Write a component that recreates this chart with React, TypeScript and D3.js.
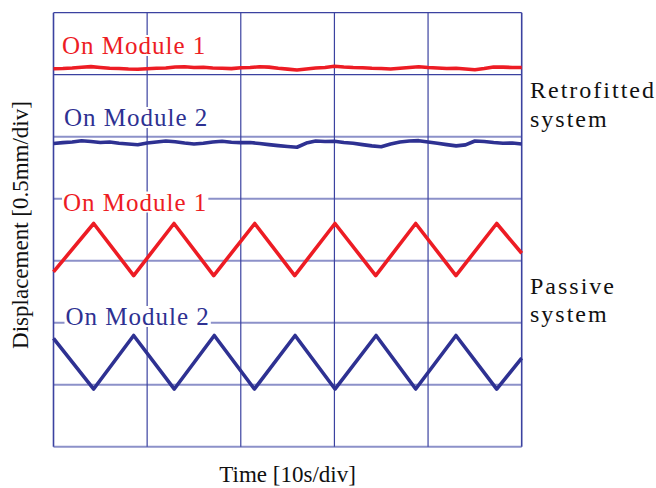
import React, { useEffect, useRef } from 'react';
import * as d3 from 'd3';

// time axis: 10 s/div, 5 divisions; displacement: 0.5 mm/div, 7 divisions
const timeTicks = [0, 10, 20, 30, 40, 50];
const dispTicks = [0, 0.5, 1, 1.5, 2, 2.5, 3, 3.5];

// retrofitted system, sampled every 1 s (mm, incl. channel offset)
const retroModule1 = [
  3.048, 3.05, 3.054, 3.06, 3.065, 3.058, 3.052, 3.05, 3.046, 3.044, 3.048,
  3.052, 3.054, 3.062, 3.064, 3.058, 3.06, 3.054, 3.052, 3.049, 3.056, 3.058,
  3.064, 3.061, 3.052, 3.045, 3.038, 3.046, 3.054, 3.058, 3.068, 3.062, 3.058,
  3.056, 3.052, 3.05, 3.046, 3.052, 3.058, 3.064, 3.058, 3.054, 3.05, 3.052,
  3.046, 3.04, 3.05, 3.062, 3.061, 3.058, 3.058,
];
const retroModule2 = [
  2.445, 2.452, 2.457, 2.467, 2.461, 2.453, 2.457, 2.447, 2.441, 2.435, 2.449,
  2.457, 2.465, 2.459, 2.449, 2.441, 2.447, 2.457, 2.463, 2.455, 2.452, 2.453,
  2.445, 2.436, 2.428, 2.421, 2.415, 2.449, 2.465, 2.461, 2.463, 2.453, 2.447,
  2.436, 2.426, 2.419, 2.441, 2.457, 2.465, 2.468, 2.457, 2.447, 2.436, 2.426,
  2.434, 2.465, 2.461, 2.453, 2.447, 2.449, 2.441,
];

// passive system: turning points of the triangular response
const passive1Times = [0, 4.29, 8.56, 12.87, 17.11, 21.49, 25.76, 30.06, 34.41, 38.68, 42.98, 47.33, 50];
const passive1Values = [1.41, 1.8, 1.38, 1.8, 1.38, 1.8, 1.38, 1.8, 1.38, 1.8, 1.38, 1.8, 1.56];
const passive2Times = [0, 4.29, 8.56, 12.9, 17.17, 21.45, 25.8, 30.06, 34.45, 38.68, 42.98, 47.33, 50];
const passive2Values = [0.874, 0.465, 0.897, 0.465, 0.897, 0.465, 0.897, 0.465, 0.897, 0.465, 0.897, 0.465, 0.715];

const RED = '#ed1c24';
const BLUE = '#2e3192';
const GRID_DARK = '#3b42a0';
const GRID_LIGHT = '#8c91c9';

const App: React.FC = () => {
  const chartRef = useRef<SVGSVGElement>(null);

  useEffect(() => {
    if (!chartRef.current) return;
    const svg = d3.select(chartRef.current);
    svg.selectAll('*').remove();

    const x = d3.scaleLinear().domain([0, 50]).range([53.5, 521.7]);
    const y = d3.scaleLinear().domain([0, 3.5]).range([446.7, 12.7]);

    const grid = svg.append('g');
    grid
      .selectAll('line.h')
      .data(dispTicks)
      .enter()
      .append('line')
      .attr('x1', x(0))
      .attr('x2', x(50))
      .attr('y1', (d) => y(d))
      .attr('y2', (d) => y(d))
      .attr('stroke', (d) => (d >= 3 ? GRID_DARK : GRID_LIGHT))
      .attr('stroke-width', (d) => (d >= 3 ? 1.3 : 2));
    grid
      .selectAll('line.v')
      .data(timeTicks)
      .enter()
      .append('line')
      .attr('x1', (d) => x(d))
      .attr('x2', (d) => x(d))
      .attr('y1', y(3.5))
      .attr('y2', y(0))
      .attr('stroke', GRID_DARK)
      .attr('stroke-width', (d) => (d === 0 || d === 50 ? 1.6 : 1.2));

    const line = d3
      .line<[number, number]>()
      .x((d) => x(d[0]))
      .y((d) => y(d[1]));

    const traces: { pts: [number, number][]; color: string }[] = [
      { pts: retroModule1.map((v, i) => [i, v]), color: RED },
      { pts: retroModule2.map((v, i) => [i, v]), color: BLUE },
      { pts: passive1Times.map((t, i) => [t, passive1Values[i]]), color: RED },
      { pts: passive2Times.map((t, i) => [t, passive2Values[i]]), color: BLUE },
    ];

    svg
      .append('g')
      .selectAll('path')
      .data(traces)
      .enter()
      .append('path')
      .attr('d', (d) => line(d.pts))
      .attr('fill', 'none')
      .attr('stroke', (d) => d.color)
      .attr('stroke-width', 3.6)
      .attr('stroke-linejoin', 'round');

    const labels = [
      { text: 'On Module 1', x: 62, y: 54, color: RED },
      { text: 'On Module 2', x: 64, y: 126, color: BLUE },
      { text: 'On Module 1', x: 63, y: 210.5, color: RED },
      { text: 'On Module 2', x: 65.5, y: 325, color: BLUE },
    ];
    const lg = svg.append('g').attr('font-family', '"Liberation Serif", "Times New Roman", serif');
    labels.forEach((l) => {
      const bg = lg.append('rect').attr('fill', '#fff');
      const t = lg
        .append('text')
        .attr('x', l.x)
        .attr('y', l.y)
        .attr('font-size', 25)
        .attr('letter-spacing', 1)
        .attr('fill', l.color)
        .text(l.text);
      const b = (t.node() as SVGTextElement).getBBox();
      bg.attr('x', b.x - 1)
        .attr('y', b.y + 3)
        .attr('width', b.width + 2)
        .attr('height', b.height - 6);
    });

    const side = [
      { text: 'Retrofitted', y: 97.5 },
      { text: 'system', y: 126.5 },
      { text: 'Passive', y: 293.5 },
      { text: 'system', y: 322 },
    ];
    lg.selectAll('text.side')
      .data(side)
      .enter()
      .append('text')
      .attr('x', 530)
      .attr('y', (d) => d.y)
      .attr('font-size', 24)
      .attr('letter-spacing', 2)
      .attr('fill', '#111')
      .text((d) => d.text);

    lg.append('text')
      .attr('x', (x(0) + x(50)) / 2)
      .attr('y', 482)
      .attr('text-anchor', 'middle')
      .attr('font-size', 23)
      .attr('fill', '#111')
      .text('Time [10s/div]');

    lg.append('text')
      .attr('transform', `translate(28,225) rotate(-90)`)
      .attr('text-anchor', 'middle')
      .attr('font-size', 23)
      .attr('fill', '#111')
      .text('Displacement [0.5mm/div]');

    return () => {
      svg.selectAll('*').remove();
    };
  }, []);

  return (
    <svg
      ref={chartRef}
      width={656}
      height={488}
      style={{ position: 'absolute', left: 0, top: 0, background: '#fff' }}
    ></svg>
  );
};

export default App;
